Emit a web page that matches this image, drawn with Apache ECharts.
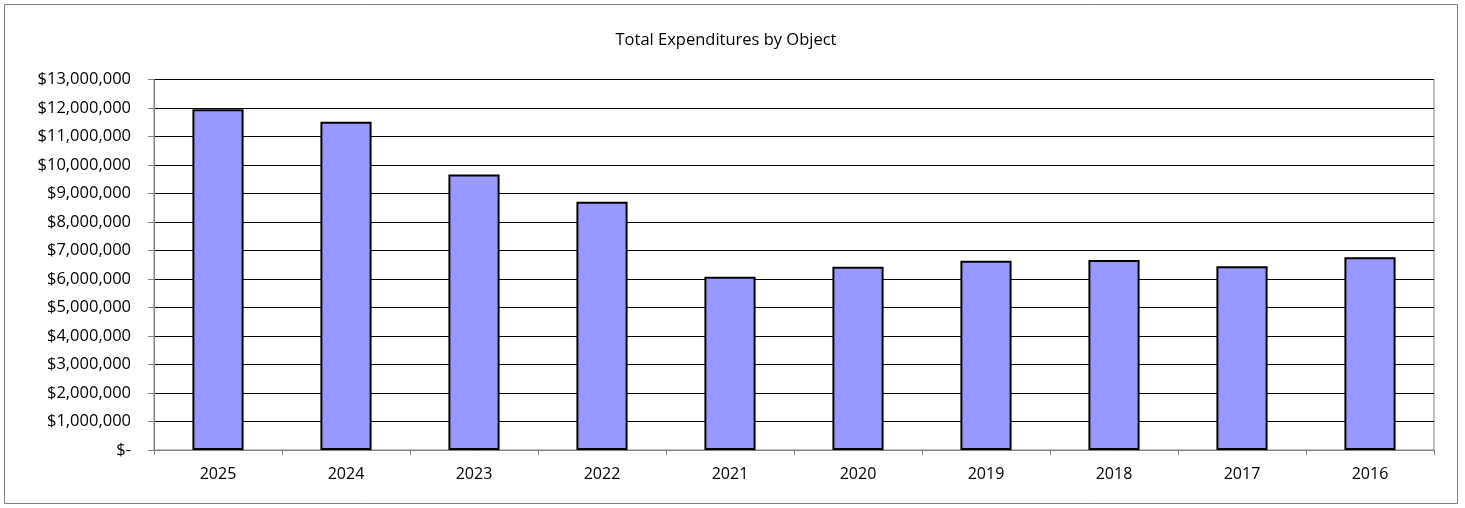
<!DOCTYPE html>
<html>
<head>
<meta charset="utf-8">
<script src="https://cdn.jsdelivr.net/npm/echarts@6/dist/echarts.min.js"></script>
<style>
  html, body { margin: 0; padding: 0; background: #ffffff; }
  #chart { width: 1465px; height: 508px; }
</style>
</head>
<body>
<div id="chart"></div>
<script>
// Fiscal years, newest first
const years = ['2025', '2024', '2023', '2022', '2021', '2020', '2019', '2018', '2017', '2016'];
// Total expenditures per year (USD)
const expenditures = [11960000, 11520000, 9670000, 8710000, 6080000, 6430000, 6640000, 6670000, 6450000, 6760000];
// Value axis range
const axisMax = 13000000;
const axisStep = 1000000;

const fontFamily = '"Open Sans", "Noto Sans", sans-serif';

function money(v) {
  if (v === 0) return '$-';
  return '$' + v.toLocaleString('en-US');
}

const chart = echarts.init(document.getElementById('chart'), null, { renderer: 'canvas' });
chart.setOption({
  animation: false,
  backgroundColor: '#ffffff',
  title: {
    text: 'Total Expenditures by Object',
    left: 721,
    top: 27,
    textAlign: 'center',
    textStyle: { fontFamily, fontSize: 16.5, fontWeight: 'normal', color: '#000000' }
  },
  graphic: [{
    type: 'rect',
    shape: { x: 4.5, y: 4.5, width: 1453, height: 499 },
    style: { fill: 'none', stroke: '#808080', lineWidth: 1 },
    silent: true
  }],
  grid: {
    left: 154, right: 31, top: 79.5, bottom: 58,
    show: true, borderColor: '#808080', borderWidth: 1, backgroundColor: 'transparent'
  },
  xAxis: {
    type: 'category',
    data: years,
    axisLine: { lineStyle: { color: '#808080', width: 1 } },
    axisTick: { show: true, length: 5, lineStyle: { color: '#808080' } },
    axisLabel: { fontFamily, fontSize: 16, color: '#000000', margin: 16 }
  },
  yAxis: {
    type: 'value',
    min: 0, max: axisMax, interval: axisStep,
    axisLine: { show: true, lineStyle: { color: '#808080', width: 1 } },
    axisTick: { show: true, length: 6, lineStyle: { color: '#808080' } },
    splitLine: { show: true, lineStyle: { color: '#000000', width: 1 } },
    axisLabel: { fontFamily, fontSize: 16.5, color: '#000000', margin: 23, formatter: money }
  },
  series: [{
    type: 'bar',
    data: expenditures,
    barWidth: '40%',
    itemStyle: { color: '#9999FF', borderColor: '#000000', borderWidth: 2 }
  }]
});
</script>
</body>
</html>
